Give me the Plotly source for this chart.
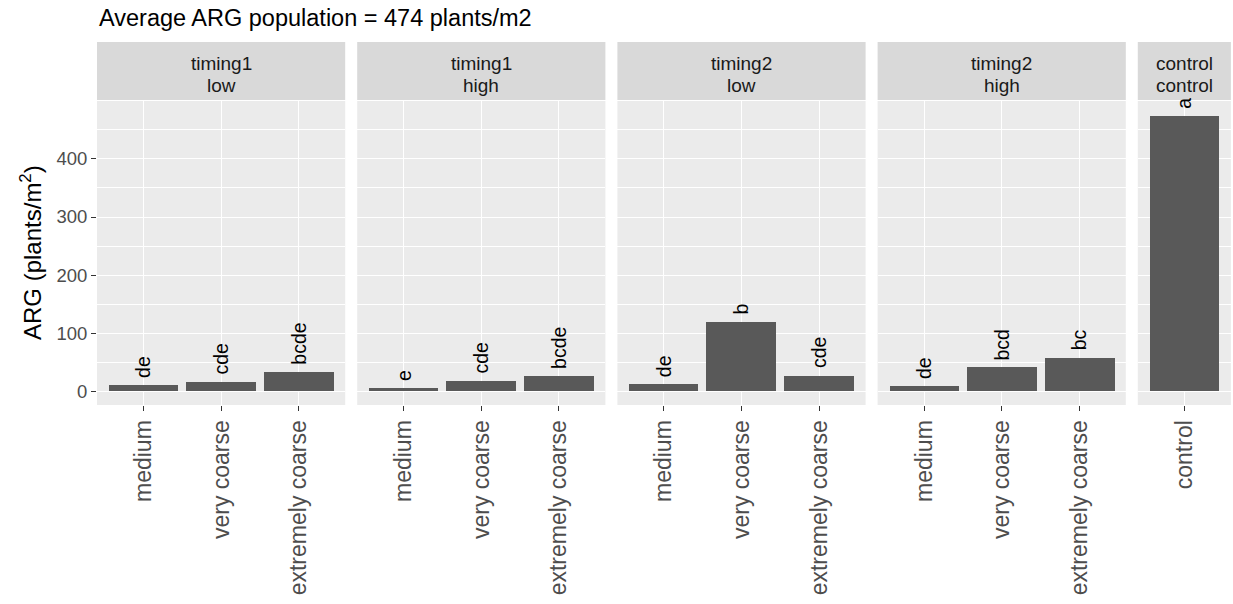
import plotly.graph_objects as go

# ---- data ----
timing = ["timing1", "timing1", "timing2", "timing2", "control"]
level = ["low", "high", "low", "high", "control"]
categories = [
    ["medium", "very coarse", "extremely coarse"],
    ["medium", "very coarse", "extremely coarse"],
    ["medium", "very coarse", "extremely coarse"],
    ["medium", "very coarse", "extremely coarse"],
    ["control"],
]
values = [
    [10, 16, 33],
    [6, 18, 26],
    [12, 120, 27],
    [9, 41, 58],
    [474],
]
letters = [
    ["de", "cde", "bcde"],
    ["e", "cde", "bcde"],
    ["de", "b", "cde"],
    ["de", "bcd", "bc"],
    ["a"],
]
y_ticks = [0, 100, 200, 300, 400]
title_text = "Average ARG population = 474 plants/m2"

# ---- layout constants (pixels) ----
W, H = 1233, 604
panel_left = 97
panel_w = 248.2
gap = 12
panel_top, panel_bot = 101, 405
strip_top = 42
y_range = [-23.8, 499.8]
FONT = "Liberation Sans, Arial, sans-serif"

def px(x):
    return min(max(x / W, 0), 1)

def py(y):
    return min(max(1 - y / H, 0), 1)

fig = go.Figure()
annotations = []
shapes = []
x0 = panel_left
for i in range(5):
    n = len(categories[i])
    w = panel_w * (n + 0.2) / 3.2
    x1 = x0 + w
    suffix = "" if i == 0 else str(i + 1)
    xa = "x" + suffix
    ya = "y" + suffix
    fig.add_trace(go.Bar(
        x=categories[i], y=values[i], width=0.9,
        marker=dict(color="#595959", line=dict(width=0)),
        xaxis=xa, yaxis=ya, showlegend=False, hoverinfo="x+y",
    ))
    fig.update_layout(**{
        "xaxis" + suffix: dict(
            domain=[px(x0), px(x1)], anchor=ya, type="category",
            categoryorder="array", categoryarray=categories[i],
            range=[-0.6, n - 0.4], showgrid=True, gridcolor="white", gridwidth=1.4,
            ticks="outside", ticklen=5, tickcolor="#333333", tickwidth=1.1,
            tickangle=-90, tickfont=dict(family=FONT, size=23, color="#4D4D4D"),
            zeroline=False, showline=False, fixedrange=True,
        ),
        "yaxis" + suffix: dict(
            domain=[py(panel_bot), py(panel_top)], anchor=xa, range=y_range,
            tickvals=y_ticks, showgrid=True, gridcolor="white", gridwidth=1.4,
            minor=dict(dtick=50, tick0=0, showgrid=True, gridcolor="white", gridwidth=0.6),
            zeroline=False, showline=False,
            showticklabels=(i == 0), ticks="outside" if i == 0 else "",
            ticklen=5, tickcolor="#333333", tickwidth=1.1,
            tickfont=dict(family=FONT, size=18.5, color="#4D4D4D"),
            fixedrange=True,
        ),
    })
    # strip
    shapes.append(dict(type="rect", xref="paper", yref="paper",
                       x0=px(x0), x1=px(x1), y0=py(panel_top - 1), y1=py(strip_top),
                       fillcolor="#D9D9D9", line=dict(width=0), layer="below"))
    for txt, yc in ((timing[i], 64), (level[i], 85)):
        annotations.append(dict(
            xref="paper", yref="paper", x=px((x0 + x1) / 2), y=py(yc),
            text=txt, showarrow=False,
            font=dict(family=FONT, size=19, color="#1A1A1A"),
            xanchor="center", yanchor="middle",
        ))
    # letters
    for c, v, t in zip(categories[i], values[i], letters[i]):
        annotations.append(dict(
            xref=xa, yref=ya, x=c, y=v, text=t, showarrow=False, textangle=-90,
            xanchor="center", yanchor="bottom", yshift=5,
            font=dict(family=FONT, size=19.5, color="black"),
        ))
    x0 = x1 + gap

annotations.append(dict(
    xref="paper", yref="paper", x=px(97), y=py(18), text=title_text, showarrow=False,
    xanchor="left", yanchor="middle",
    font=dict(family=FONT, size=23.5, color="black"),
))
annotations.append(dict(
    xref="paper", yref="paper", x=px(31), y=py((panel_top + panel_bot) / 2),
    text="ARG (plants/m<sup>2</sup>)", showarrow=False, textangle=-90,
    xanchor="center", yanchor="middle",
    font=dict(family=FONT, size=24, color="black"),
))

fig.update_layout(
    width=W, height=H, margin=dict(l=0, r=0, t=0, b=0),
    plot_bgcolor="#EBEBEB", paper_bgcolor="white",
    annotations=annotations, shapes=shapes, bargap=0,
)
fig.write_html(
    "out.html",
    config={"displayModeBar": False},
    post_script="document.body.style.margin='0';document.body.style.overflow='hidden';",
)
